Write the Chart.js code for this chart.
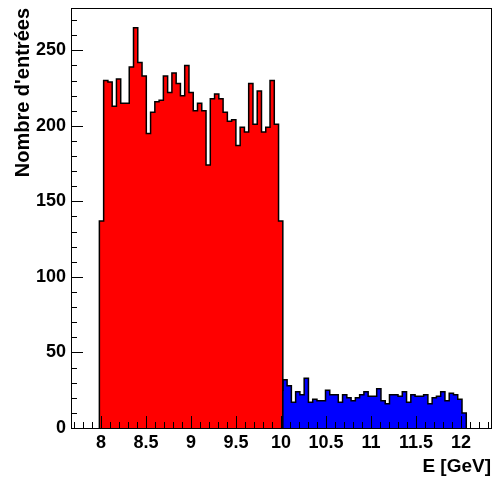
<!DOCTYPE html>
<html>
<head>
<meta charset="utf-8">
<script src="https://cdn.jsdelivr.net/npm/chart.js@4"></script>
<style>
  html, body { margin: 0; padding: 0; background: #fff; }
</style>
</head>
<body>
<canvas id="myChart" width="495" height="482"></canvas>
<script>
// Bin contents (same binning for both histograms)
const binWidth = 0.0474;
const redFirstEdge = 7.982;
const blueFirstEdge = 9.973;
const redCounts = [137, 230, 229, 213, 231, 215, 215, 239, 265, 242, 233, 195, 209, 216,
                   217, 233, 222, 235, 228, 220, 240, 222, 210, 215, 210, 174, 218, 221,
                   218, 209, 203, 204, 187, 199, 196, 228, 201, 223, 196, 199, 230, 201, 137];
const blueCounts = [25, 32, 28, 17, 24, 22, 33, 17, 19, 18, 18, 25, 22, 22, 17, 22, 20, 18,
                    20, 22, 24, 21, 21, 26, 18, 16, 22, 22, 21, 24, 17, 22, 21, 21, 22, 16,
                    20, 21, 24, 18, 23, 22, 19, 10];
const xTickLabels = [8, 8.5, 9, 9.5, 10, 10.5, 11, 11.5, 12];
const yTickLabels = [0, 50, 100, 150, 200, 250];
const xRange = [7.6667, 12.3333];
const yRange = [0, 278];

const FONT = "'Liberation Sans', Arial, Helvetica, sans-serif";

// histogram outline: start and end on the baseline
function stepPoints(firstEdge, counts) {
    const pts = [{ x: firstEdge, y: 0 }];
    counts.forEach((c, i) => pts.push({ x: firstEdge + i * binWidth, y: c }));
    pts.push({ x: firstEdge + counts.length * binWidth, y: 0 });
    return pts;
}

// frame + ROOT style inside ticks
const rootAxes = {
    id: "rootAxes",
    afterDatasetsDraw(chart) {
        const { ctx, chartArea: a, scales: { x, y } } = chart;
        ctx.save();
        ctx.strokeStyle = "#000";
        ctx.lineWidth = 1;
        ctx.beginPath();
        for (let k = Math.ceil(x.min * 10); k <= Math.floor(x.max * 10); k++) {
            const px = Math.round(x.getPixelForValue(k / 10)) + 0.5;
            const len = k % 5 === 0 ? 12 : 6;
            ctx.moveTo(px, a.bottom);
            ctx.lineTo(px, a.bottom - len);
        }
        for (let k = 0; k <= Math.floor(y.max / 10); k++) {
            const py = Math.round(y.getPixelForValue(k * 10)) + 0.5;
            const len = k % 5 === 0 ? 12 : 6;
            ctx.moveTo(a.left, py);
            ctx.lineTo(a.left + len, py);
        }
        ctx.stroke();
        ctx.strokeRect(Math.round(a.left) + 0.5, Math.round(a.top) + 0.5,
                       Math.round(a.right - a.left), Math.round(a.bottom - a.top));
        ctx.restore();
    }
};

const ctx = document.getElementById("myChart").getContext("2d");
new Chart(ctx, {
    type: "line",
    data: {
        datasets: [{
            data: stepPoints(redFirstEdge, redCounts),
            stepped: "before",
            fill: "origin",
            backgroundColor: "#ff0000",
            borderColor: "#000",
            borderWidth: 1.5,
            pointRadius: 0
        }, {
            data: stepPoints(blueFirstEdge, blueCounts),
            stepped: "before",
            fill: "origin",
            backgroundColor: "#0000ff",
            borderColor: "#000",
            borderWidth: 1.5,
            pointRadius: 0
        }]
    },
    options: {
        responsive: false,
        animation: false,
        layout: { padding: { top: 8, right: 4, left: 0, bottom: 0 } },
        plugins: { legend: { display: false }, tooltip: { enabled: false } },
        scales: {
            x: {
                type: "linear",
                min: xRange[0],
                max: xRange[1],
                afterBuildTicks: s => { s.ticks = xTickLabels.map(v => ({ value: v })); },
                afterFit: s => { s.height = 54; s.paddingLeft = 0; s.paddingRight = 0; },
                grid: { display: false, drawTicks: false },
                border: { display: false },
                ticks: {
                    color: "#000",
                    padding: 4,
                    maxRotation: 0,
                    autoSkip: false,
                    font: { family: FONT, size: 18, weight: "bold" },
                    callback: v => String(v)
                },
                title: {
                    display: true,
                    text: "E [GeV]",
                    align: "end",
                    color: "#000",
                    font: { family: FONT, size: 19, weight: "bold" },
                    padding: { top: 0, bottom: 4 }
                }
            },
            y: {
                min: yRange[0],
                max: yRange[1],
                afterBuildTicks: s => { s.ticks = yTickLabels.map(v => ({ value: v })); },
                afterFit: s => { s.width = 71; s.paddingTop = 0; s.paddingBottom = 0; },
                grid: { display: false, drawTicks: false },
                border: { display: false },
                ticks: {
                    color: "#000",
                    padding: 5,
                    font: { family: FONT, size: 18, weight: "bold" },
                    callback: v => String(v)
                },
                title: {
                    display: true,
                    text: "Nombre d'entrées",
                    align: "end",
                    color: "#000",
                    font: { family: FONT, size: 20, weight: "bold" },
                    padding: { top: 11, bottom: 0 }
                }
            }
        }
    },
    plugins: [rootAxes]
});
</script>
</body>
</html>
